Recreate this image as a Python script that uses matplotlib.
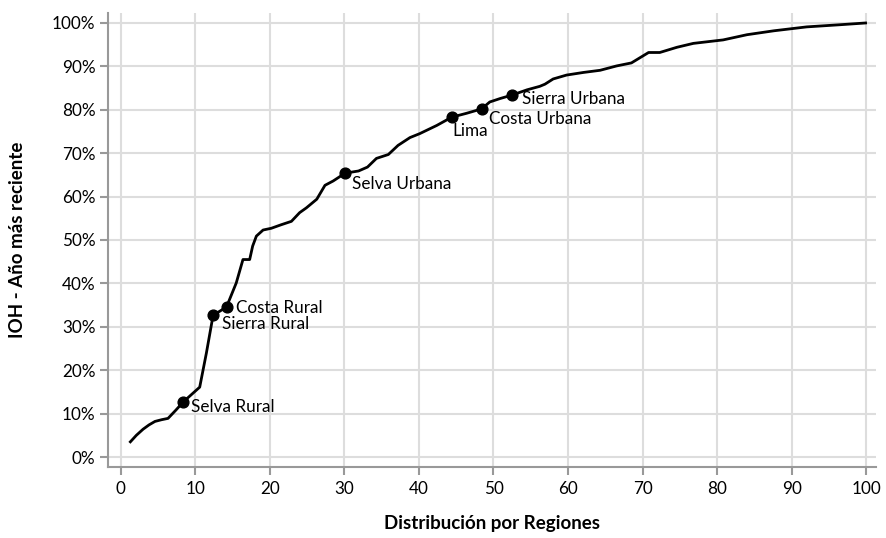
import numpy as np
import matplotlib
matplotlib.use("Agg")
import matplotlib.pyplot as plt
from matplotlib.ticker import FuncFormatter

plt.rcParams['font.family'] = ['Lato', 'DejaVu Sans']

# curve: distribution by regions (x) vs IOH share (y, %)
dist = [1.3, 2.1, 3.0, 3.8, 4.6, 5.5, 6.35, 7.4, 8.4, 9.5, 10.6, 11.5, 12.4,
        13.3, 14.2, 15.5, 16.4, 17.3, 17.7, 18.2, 19.1, 20.2, 21.5, 22.9, 24.0,
        24.9, 26.3, 27.4, 28.5, 30.1, 31.9, 33.1, 34.3, 35.9, 37.2, 38.8, 40.1,
        42.4, 44.4, 46.4, 48.4, 49.5, 50.9, 52.5, 54.5, 56.2, 56.9, 58.0, 59.8,
        62.05, 64.3, 66.5, 68.5, 70.8, 72.3, 74.6, 76.8, 80.8, 84.0, 87.6, 92.0,
        96.5, 99.9]
ioh = [3.5, 5.0, 6.4, 7.4, 8.2, 8.6, 8.9, 10.8, 12.7, 14.4, 16.1, 24.0, 32.7,
       33.6, 34.6, 40.1, 45.5, 45.5, 48.6, 50.9, 52.3, 52.7, 53.5, 54.3, 56.3,
       57.4, 59.4, 62.6, 63.6, 65.4, 65.9, 66.8, 68.8, 69.7, 71.8, 73.6, 74.5,
       76.4, 78.3, 79.2, 80.2, 81.8, 82.6, 83.4, 84.6, 85.4, 85.9, 87.1, 88.0,
       88.6, 89.1, 90.1, 90.8, 93.2, 93.2, 94.4, 95.3, 96.1, 97.3, 98.2, 99.1,
       99.6, 100.0]

# highlighted regions
regions = ['Selva Rural', 'Sierra Rural', 'Costa Rural', 'Selva Urbana',
           'Lima', 'Costa Urbana', 'Sierra Urbana']
reg_x = [8.4, 12.4, 14.2, 30.1, 44.4, 48.4, 52.5]
reg_y = [12.7, 32.7, 34.6, 65.4, 78.3, 80.2, 83.4]
label_offsets = [(8, -5), (9, -9), (9, -1), (7, -11), (1, -14), (7, -10), (10, -4)]

x_ticks = list(range(0, 101, 10))
y_ticks = list(range(0, 101, 10))

fig = plt.figure(figsize=(8.87, 5.38), dpi=100)
ax = fig.add_axes([108 / 887, 71 / 538, 768 / 887, 454 / 538])

ax.plot(dist, ioh, color='black', lw=2, solid_joinstyle='round', zorder=3)
ax.scatter(reg_x, reg_y, s=60, color='black', zorder=4)
for name, x, y, off in zip(regions, reg_x, reg_y, label_offsets):
    ax.annotate(name, (x, y), xytext=off, textcoords='offset pixels',
                ha='left', va='center', fontsize=12.3, color='black', zorder=5)

ax.set_xlim(-1.7, 101.3)
ax.set_ylim(-2.3, 102.3)
ax.set_xticks(x_ticks)
ax.set_yticks(y_ticks)
ax.yaxis.set_major_formatter(FuncFormatter(lambda v, p: f'{v:.0f}%'))
ax.grid(True, color='#dddddd', lw=1.5, zorder=0)
ax.set_axisbelow(True)

for s in ['top', 'right']:
    ax.spines[s].set_visible(False)
for s in ['left', 'bottom']:
    ax.spines[s].set_color('#999999')
    ax.spines[s].set_linewidth(1.5)
ax.tick_params(axis='both', colors='#999999', length=6, width=1.5,
               labelsize=12.3, labelcolor='black')
ax.tick_params(axis='x', pad=4)
ax.tick_params(axis='y', pad=3)

ax.set_xlabel('Distribución por Regiones', fontsize=13.5, fontweight='bold')
ax.set_ylabel('IOH - Año más reciente', fontsize=13.5, fontweight='bold')
ax.xaxis.set_label_coords(0.5, -0.106)
ax.yaxis.set_label_coords(-0.107, 0.5)

fig.savefig('out.png', dpi=100)
